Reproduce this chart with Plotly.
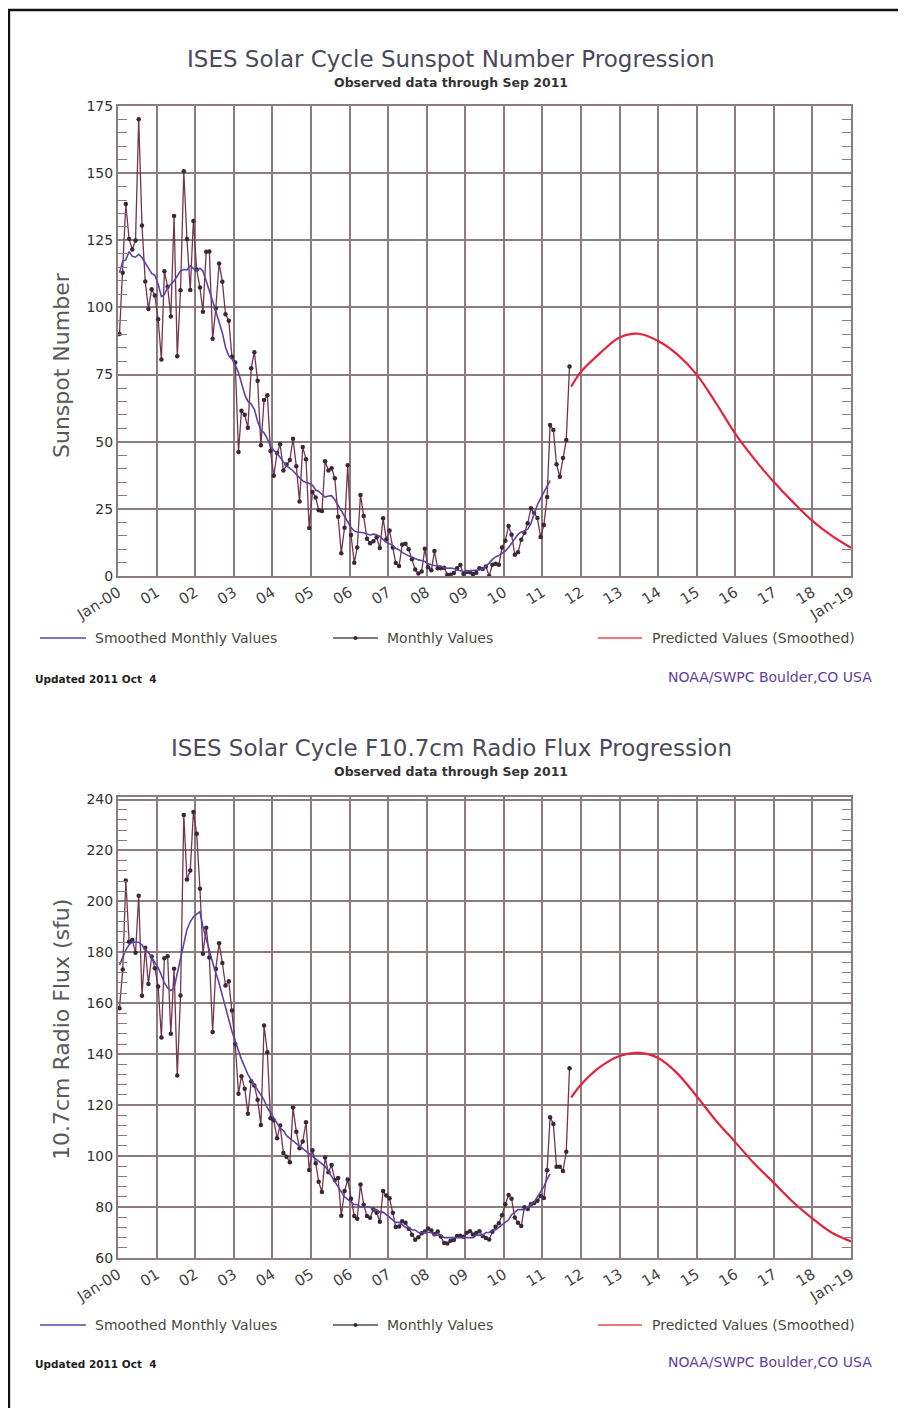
import pandas as pd
import plotly.graph_objects as go

W, H = 906, 1408
OFF = 8  # page body margin the figure is drawn at

# ---------------- data ----------------
ssn_monthly = [
    90.1, 112.9, 138.5, 125.5, 121.6, 124.9, 170.1, 130.5, 109.7, 99.4, 106.8, 104.4,
    95.6, 80.6, 113.5, 107.7, 96.6, 134.0, 81.8, 106.4, 150.7, 125.5, 106.5, 132.2,
    114.1, 107.4, 98.4, 120.7, 120.8, 88.3, 99.6, 116.4, 109.6, 97.5, 95.0, 81.6,
    79.5, 46.2, 61.5, 60.0, 55.2, 77.4, 83.3, 72.7, 48.7, 65.5, 67.3, 46.5,
    37.3, 45.8, 49.1, 39.3, 41.5, 43.2, 51.1, 40.9, 27.7, 48.0, 43.5, 17.9,
    31.3, 29.2, 24.5, 24.2, 42.7, 39.3, 40.1, 36.4, 22.1, 8.5, 18.0, 41.2,
    15.3, 4.9, 10.6, 30.2, 22.3, 13.9, 12.2, 12.9, 14.4, 10.4, 21.5, 13.6,
    16.9, 10.6, 4.8, 3.7, 11.7, 12.0, 10.0, 6.2, 2.4, 0.9, 1.7, 10.1,
    3.3, 2.1, 9.3, 2.9, 2.9, 3.1, 0.5, 0.5, 1.1, 2.9, 4.1, 0.8,
    1.5, 1.4, 0.7, 1.2, 2.9, 2.6, 3.5, 0.0, 4.2, 4.6, 4.2, 10.6,
    13.1, 18.6, 15.4, 7.9, 8.8, 13.5, 16.1, 19.6, 25.2, 23.5, 21.6, 14.5,
    19.0, 29.4, 56.2, 54.4, 41.6, 37.0, 43.9, 50.6, 78.0,
]
ssn_smoothed = [
    112.9, 117.2, 117.7, 120.8, 119.0, 118.7, 119.8, 118.6, 116.6, 114.4, 112.7, 112.0,
    108.7, 104.0, 104.8, 107.5, 108.6, 109.8, 111.7, 113.6, 114.1, 114.0, 115.5, 114.6,
    113.5, 114.6, 113.6, 109.8, 106.3, 102.7, 98.7, 94.6, 90.5, 85.2, 82.0, 80.8,
    78.6, 75.7, 71.4, 67.6, 65.0, 64.0, 62.1, 57.6, 54.3, 53.3, 51.1, 48.3,
    46.8, 45.8, 44.1, 42.3, 41.0, 40.1, 39.2, 37.8, 36.5, 35.4, 34.8, 34.5,
    33.8, 32.0, 31.5, 30.5, 29.4, 29.8, 29.9, 28.4, 26.4, 24.5, 22.4, 20.2,
    18.0, 16.8, 16.4, 16.3, 16.1, 15.6, 15.3, 15.6, 15.4, 14.7, 13.5, 12.5,
    12.0, 11.3, 10.3, 9.7, 8.8, 8.0, 7.5, 7.1, 6.4, 6.0, 5.8, 5.4,
    4.6, 4.1, 3.9, 3.8, 3.7, 3.1, 2.9, 3.0, 2.8, 2.2, 1.8, 1.7,
    1.8, 1.9, 2.0, 2.2, 2.3, 2.7, 3.6, 4.8, 6.2, 7.1, 7.6, 8.3,
    9.3, 10.6, 12.3, 14.0, 15.5, 16.4, 16.7, 17.4, 19.6, 23.2, 26.5, 28.8,
    31.0, 33.4, 35.5,
]
pred_dates = ["2011-10-01", "2012-01-01", "2012-07-01", "2013-01-01", "2013-07-01",
              "2014-01-01", "2014-07-01", "2015-01-01", "2015-07-01", "2016-01-01",
              "2016-07-01", "2017-01-01", "2017-07-01", "2018-01-01", "2018-07-01",
              "2019-01-01"]
ssn_predicted = [70.5, 76.0, 83.0, 88.8, 90.2, 87.5, 82.5, 75.0, 64.5, 53.0,
                 43.5, 35.0, 27.5, 20.5, 15.0, 10.5]

f107_monthly = [
    158.1, 173.3, 208.2, 184.2, 184.9, 179.8, 202.2, 163.0, 181.8, 167.6, 178.4, 173.8,
    166.6, 146.6, 177.7, 178.5, 148.0, 173.6, 131.7, 163.1, 233.9, 208.6, 212.1, 235.1,
    226.6, 205.0, 179.5, 189.7, 178.0, 148.7, 173.5, 183.6, 175.8, 167.0, 168.7, 157.2,
    144.0, 124.5, 131.4, 126.5, 116.6, 129.4, 127.7, 122.1, 112.2, 151.3, 140.8, 114.9,
    114.1, 107.0, 112.0, 101.2, 99.8, 97.6, 119.1, 109.6, 103.1, 105.7, 113.3, 94.6,
    102.3, 97.2, 89.9, 85.9, 99.5, 93.7, 96.5, 90.6, 91.4, 76.6, 86.3, 90.8,
    83.3, 76.5, 75.4, 88.9, 80.9, 76.5, 75.8, 79.0, 77.8, 74.2, 86.3, 84.5,
    83.5, 77.8, 72.2, 72.4, 74.4, 73.8, 71.5, 69.1, 67.2, 68.1, 69.7, 70.4,
    71.6, 70.8, 69.3, 70.4, 68.4, 65.9, 65.7, 66.8, 67.1, 68.6, 68.7, 68.3,
    69.9, 70.5, 69.2, 69.8, 70.5, 68.6, 67.9, 67.3, 70.3, 72.3, 73.6, 76.8,
    81.1, 84.7, 83.3, 75.9, 73.8, 72.6, 79.9, 79.2, 81.1, 81.6, 82.5, 84.3,
    83.6, 94.5, 115.3, 112.6, 95.8, 95.8, 94.2, 101.7, 134.5,
]
f107_smoothed = [
    175, 178, 181, 183, 184, 184, 184, 183, 181, 180, 178, 176,
    174, 171, 168, 166, 165, 166, 172, 178, 184, 189, 192, 194,
    195, 196, 190, 185, 180, 176, 172, 168, 163, 158, 153, 149,
    145, 141, 138, 135, 132, 130, 128, 126, 124, 122, 119, 117,
    115, 113, 111, 110, 108, 107, 106, 105, 104, 103, 102, 101,
    100, 99, 98, 97, 96, 94, 92, 90, 88, 86, 84, 83,
    82, 81, 81, 80, 80, 80, 80, 79, 79, 78, 78, 77,
    76, 75, 74, 74, 73, 72, 72, 71, 71, 70, 70, 70,
    70, 70, 69, 69, 69, 68, 68, 68, 68, 68, 68, 68,
    68, 68, 68, 69, 69, 69, 70, 70, 71, 71, 72, 73,
    74, 75, 77, 78, 79, 79, 79, 80, 81, 82, 84, 86,
    88, 91, 93,
]
f107_predicted = [123.0, 128.0, 135.0, 139.3, 140.5, 138.5, 132.5, 123.5, 114.0, 105.5,
                  97.0, 89.5, 82.0, 75.5, 70.0, 66.5]

year_ticks = [f"{y}-01-01" for y in range(2000, 2020)]
year_labels = ["Jan-00"] + [f"{y:02d}" for y in range(1, 19)] + ["Jan-19"]

monthly_dates = pd.date_range("2000-01-01", periods=len(ssn_monthly), freq="MS") + pd.Timedelta(days=14)
smooth_dates_ssn = pd.date_range("2000-01-01", periods=len(ssn_smoothed), freq="MS") + pd.Timedelta(days=14)
smooth_dates_f = pd.date_range("2000-01-01", periods=len(f107_smoothed), freq="MS") + pd.Timedelta(days=14)

# ---------------- styling ----------------
FONT = "DejaVu Sans"
GRID = "#8c7c7e"
MONTHLY_C = "#74354e"
DOT_C = "#3a2838"
SMOOTH_C = "#5b44a6"
PRED_C = "#e3223e"


def px_x(x):
    return (x - OFF) / W


def px_y(y):
    return 1 - (y - OFF) / H


fig = go.Figure()

panels = [
    dict(xa="x", ya="y", monthly=ssn_monthly, smooth=ssn_smoothed, sd=smooth_dates_ssn,
         pred=ssn_predicted),
    dict(xa="x2", ya="y2", monthly=f107_monthly, smooth=f107_smoothed, sd=smooth_dates_f,
         pred=f107_predicted),
]
for p in panels:
    fig.add_trace(go.Scatter(x=monthly_dates, y=p["monthly"], mode="lines+markers",
                             line=dict(color=MONTHLY_C, width=1.3),
                             marker=dict(color=DOT_C, size=4.5),
                             xaxis=p["xa"], yaxis=p["ya"], showlegend=False))
    fig.add_trace(go.Scatter(x=p["sd"], y=p["smooth"], mode="lines",
                             line=dict(color=SMOOTH_C, width=1.6),
                             xaxis=p["xa"], yaxis=p["ya"], showlegend=False))
    fig.add_trace(go.Scatter(x=pred_dates, y=p["pred"], mode="lines",
                             line=dict(color=PRED_C, width=2.2, shape="spline"),
                             xaxis=p["xa"], yaxis=p["ya"], showlegend=False))

xdom = [px_x(118), px_x(851)]
common_x = dict(
    type="date", range=["2000-01-01", "2019-01-01"], tickvals=year_ticks, ticktext=year_labels,
    tickangle=-32, tickfont=dict(family=FONT, size=15, color="#444"),
    showgrid=True, gridcolor=GRID, gridwidth=1.5, zeroline=False, automargin=False,
    showline=True, linecolor=GRID, linewidth=2, mirror=True, ticks="", domain=xdom,
)
common_y = dict(
    showgrid=True, gridcolor=GRID, gridwidth=1.5, zeroline=False, automargin=False,
    showline=True, linecolor=GRID, linewidth=2, mirror="allticks",
    ticks="inside", ticklen=10, tickcolor=GRID,
    tickfont=dict(family=FONT, size=14, color="#333"),
)
fig.update_layout(
    template="none",
    xaxis=dict(common_x, anchor="y"),
    xaxis2=dict(common_x, anchor="y2"),
    yaxis=dict(common_y, range=[0, 175], dtick=25, tick0=0, domain=[px_y(576), px_y(106)], anchor="x",
               minor=dict(dtick=5, ticks="inside", ticklen=9, tickcolor=GRID, showgrid=False)),
    yaxis2=dict(common_y, range=[60, 241], dtick=20, tick0=60, domain=[px_y(1258), px_y(797)], anchor="x2",
                minor=dict(dtick=4, ticks="inside", ticklen=9, tickcolor=GRID, showgrid=False)),
    width=W, height=H, margin=dict(l=0, r=0, t=0, b=0, autoexpand=False),
    paper_bgcolor="white", plot_bgcolor="white", showlegend=False,
)

annotations = []
shapes = []


def text(x, y, s, size, color, xanchor="center", bold=False, angle=0):
    annotations.append(dict(
        x=px_x(x), y=px_y(y), xref="paper", yref="paper", text=f"<b>{s}</b>" if bold else s,
        showarrow=False, xanchor=xanchor, yanchor="middle", textangle=angle,
        font=dict(family=FONT, size=size, color=color)))


blocks = [
    dict(title="ISES Solar Cycle Sunspot Number Progression", ty=59, sy=82,
         ytitle="Sunspot Number", yt_y=365, leg_y=638, upd_y=679),
    dict(title="ISES Solar Cycle F10.7cm Radio Flux Progression", ty=748, sy=771,
         ytitle="10.7cm Radio Flux (sfu)", yt_y=1030, leg_y=1325, upd_y=1364),
]
for b in blocks:
    text(451, b["ty"], b["title"], 23, "#4a4a58")
    text(451, b["sy"], "Observed data through Sep 2011", 12.5, "#333", bold=True)
    text(61, b["yt_y"], b["ytitle"], 22, "#5a5a5a", angle=-90)
    ly = b["leg_y"]
    shapes.append(dict(type="line", xref="paper", yref="paper", x0=px_x(40), x1=px_x(86),
                       y0=px_y(ly), y1=px_y(ly), line=dict(color=SMOOTH_C, width=1.5)))
    text(93, ly, "Smoothed Monthly Values", 14, "#4a4a3e", xanchor="left")
    shapes.append(dict(type="line", xref="paper", yref="paper", x0=px_x(333), x1=px_x(378),
                       y0=px_y(ly), y1=px_y(ly), line=dict(color="#5a4a55", width=1.5)))
    shapes.append(dict(type="circle", xref="paper", yref="paper", x0=px_x(353.5), x1=px_x(357.5),
                       y0=px_y(ly + 2), y1=px_y(ly - 2), fillcolor=DOT_C, line=dict(width=0)))
    text(385, ly, "Monthly Values", 14, "#4a4a3e", xanchor="left")
    shapes.append(dict(type="line", xref="paper", yref="paper", x0=px_x(598), x1=px_x(642),
                       y0=px_y(ly), y1=px_y(ly), line=dict(color="#f07480", width=1.8)))
    text(650, ly, "Predicted Values (Smoothed)", 14, "#4a4a3e", xanchor="left")
    text(33, b["upd_y"], "Updated 2011 Oct  4", 10.5, "#222", xanchor="left", bold=True)
    text(874, b["upd_y"] - 2, "NOAA/SWPC Boulder,CO USA", 14, "#6040a0", xanchor="right")

# outer frame lines (top and left edge of the page)
shapes.append(dict(type="line", xref="paper", yref="paper", x0=0, x1=1,
                   y0=px_y(10), y1=px_y(10), line=dict(color="#111", width=2.5)))
shapes.append(dict(type="line", xref="paper", yref="paper", x0=0.001, x1=0.001,
                   y0=px_y(10), y1=0, line=dict(color="#111", width=2.5)))

fig.update_layout(annotations=annotations, shapes=shapes)
fig.write_html("out.html")
